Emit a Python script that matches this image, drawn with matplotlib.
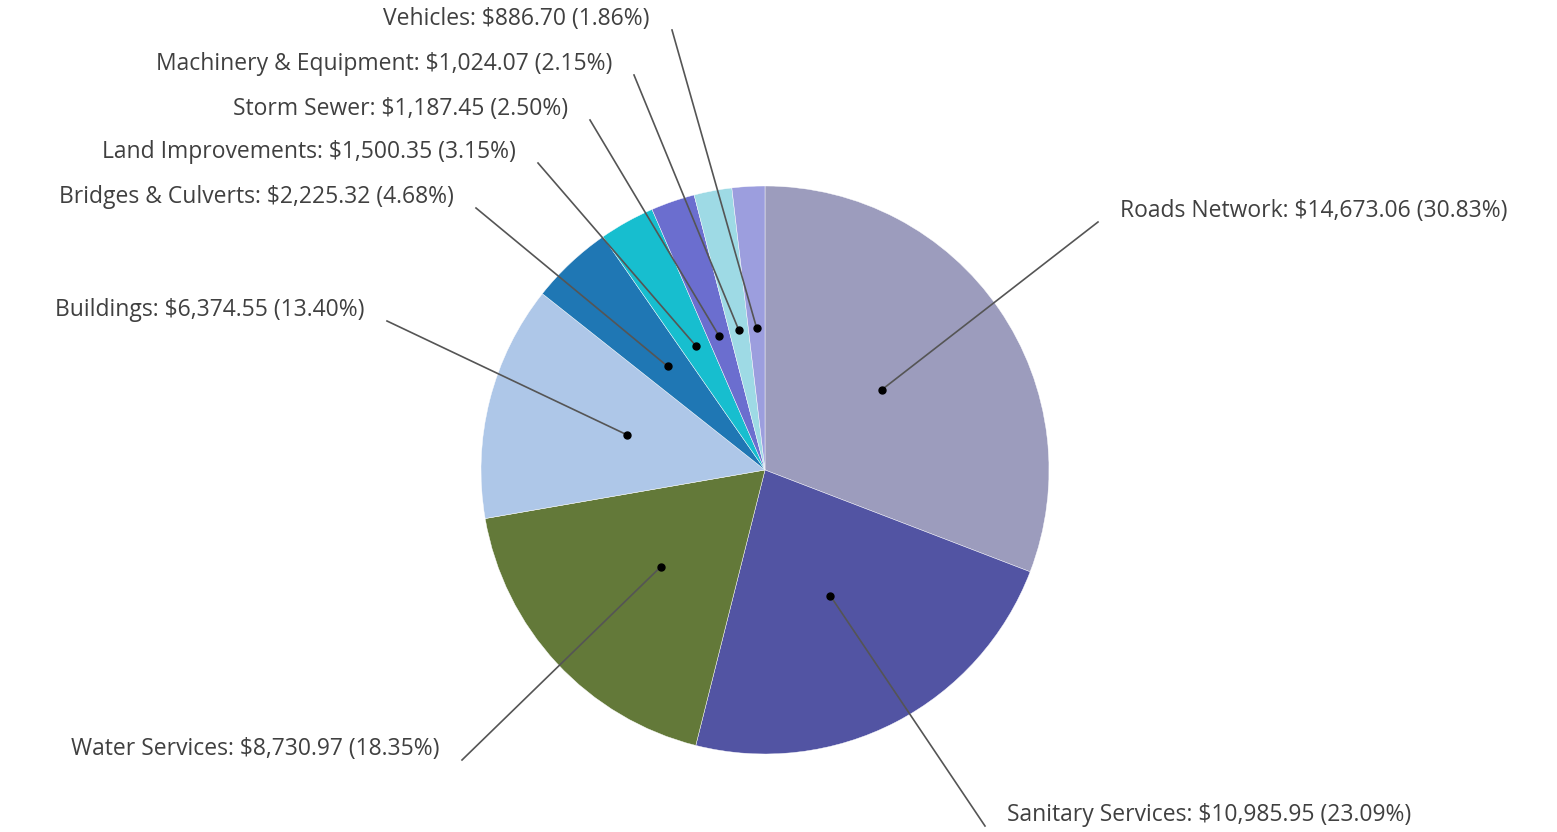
import numpy as np
import matplotlib.pyplot as plt

categories = ["Roads Network", "Sanitary Services", "Water Services", "Buildings",
              "Bridges & Culverts", "Land Improvements", "Storm Sewer",
              "Machinery & Equipment", "Vehicles"]
values = [14673.06, 10985.95, 8730.97, 6374.55, 2225.32, 1500.35, 1187.45, 1024.07, 886.70]
percents = [30.83, 23.09, 18.35, 13.40, 4.68, 3.15, 2.50, 2.15, 1.86]
colors = ["#9c9cbd", "#5254a3", "#637939", "#aec7e8", "#1f77b4",
          "#17becf", "#6b6ecf", "#9edae5", "#9c9ede"]

# layout (pixel space, y measured from top)
W, H = 1557, 832
center = (765, 470)
radius = 284
line_ends = [(1098, 222), (985, 826), (462, 760), (387, 321), (476, 208),
             (538, 163), (590, 120), (634, 75), (672, 30)]

plt.rcParams['font.family'] = ['Open Sans', 'DejaVu Sans']

fig = plt.figure(figsize=(W / 100, H / 100), dpi=100)
ax = fig.add_axes([0, 0, 1, 1])

wedges, _ = ax.pie(values, colors=colors, startangle=90, counterclock=False,
                   center=(center[0], H - center[1]), radius=radius, frame=True,
                   wedgeprops=dict(edgecolor='white', linewidth=0.3))

for w, name, v, p, (lx, ly) in zip(wedges, categories, values, percents, line_ends):
    mid = np.deg2rad((w.theta1 + w.theta2) / 2)
    dx = w.center[0] + 0.5 * w.r * np.cos(mid)
    dy = w.center[1] + 0.5 * w.r * np.sin(mid)
    ey = H - ly
    ax.plot([dx, lx], [dy, ey], color='#555555', lw=1.2, zorder=3)
    ax.plot(dx, dy, 'o', color='black', ms=5, zorder=4)
    right = lx > center[0]
    tx = lx + 22 if right else lx - 22
    ax.text(tx, ey + 11, f"{name}: ${v:,.2f} ({p:.2f}%)", ha='left' if right else 'right',
            va='center', fontsize=16.5, color='#404040')

ax.set_xlim(0, W)
ax.set_ylim(0, H)
ax.axis('off')
fig.savefig('out.png', dpi=100)
